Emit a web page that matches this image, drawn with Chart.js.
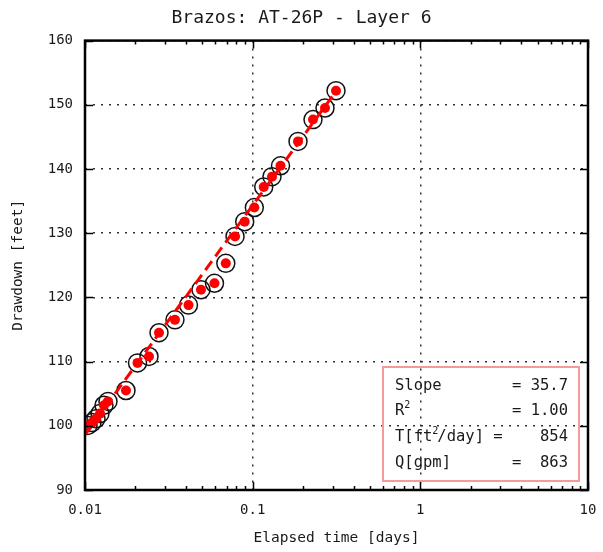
<!DOCTYPE html>
<html>
<head>
<meta charset="utf-8">
<script src="https://cdn.jsdelivr.net/npm/chart.js@4"></script>
<style>
  body { margin: 0; background: #fff; }
  #wrap { width: 603px; height: 552px; }
</style>
</head>
<body>
<div id="wrap"><canvas id="my-chart" width="603" height="552"></canvas></div>
<script>
// measured drawdown vs elapsed time
const timeDays = [0.01042, 0.01101, 0.01163, 0.01229, 0.01298, 0.01371, 0.01756, 0.02057,
    0.02408, 0.02763, 0.0344, 0.04143, 0.04918, 0.0592, 0.06915, 0.07848, 0.08965,
    0.1023, 0.1164, 0.1304, 0.1466, 0.1864, 0.229, 0.27, 0.3141];
const drawdownFeet = [100.05, 100.5, 101.1, 101.9, 103.2, 103.8, 105.5, 109.8,
    110.8, 114.5, 116.5, 118.8, 121.2, 122.2, 125.3, 129.5, 131.8,
    134.0, 137.2, 138.8, 140.5, 144.3, 147.7, 149.5, 152.2];

// straight-line fit (Cooper-Jacob)
const fitTime = [0.01, 0.3141];
const fitDrawdown = [98.6, 152.1];

const xTickValues = [0.01, 0.02, 0.03, 0.04, 0.05, 0.06, 0.07, 0.08, 0.09,
    0.1, 0.2, 0.3, 0.4, 0.5, 0.6, 0.7, 0.8, 0.9,
    1, 2, 3, 4, 5, 6, 7, 8, 9, 10];
const xTickLabels = ["0.01", "0.1", "1", "10"];

const statLabels = ["Slope", "R", "T[ft", "Q[gpm]"];
const statValues = ["= 35.7", "= 1.00", "854", "=  863"];

const mono = "'DejaVu Sans Mono', monospace";
const textColor = "#1a1a1a";

function isMajor(v) {
    const l = Math.log10(v);
    return Math.abs(l - Math.round(l)) < 1e-6;
}

const toPoints = (xs, ys) => xs.map((x, i) => ({ x: x, y: ys[i] }));

// frame, inward ticks and the stats box
const framePlugin = {
    id: "frame",
    afterDraw(chart) {
        const ctx = chart.ctx;
        const area = chart.chartArea;
        const xs = chart.scales.x;
        const ys = chart.scales.y;
        ctx.save();
        ctx.strokeStyle = "#000";
        ctx.lineWidth = 1.5;
        xs.ticks.forEach(t => {
            const px = Math.round(xs.getPixelForValue(t.value)) + 0.5;
            const len = isMajor(t.value) ? 8 : 4;
            ctx.beginPath();
            ctx.moveTo(px, area.bottom);
            ctx.lineTo(px, area.bottom - len);
            ctx.moveTo(px, area.top);
            ctx.lineTo(px, area.top + len);
            ctx.stroke();
        });
        ys.ticks.forEach(t => {
            const py = Math.round(ys.getPixelForValue(t.value)) + 0.5;
            ctx.beginPath();
            ctx.moveTo(area.left, py);
            ctx.lineTo(area.left + 8, py);
            ctx.moveTo(area.right, py);
            ctx.lineTo(area.right - 8, py);
            ctx.stroke();
        });
        ctx.lineWidth = 2.5;
        ctx.strokeRect(area.left, area.top, area.right - area.left, area.bottom - area.top);

        // stats box
        const bx = area.right - 205, by = area.bottom - 123, bw = 196, bh = 114;
        ctx.strokeStyle = "#f39a9a";
        ctx.lineWidth = 2;
        ctx.strokeRect(bx, by, bw, bh);

        const rows = [by + 19, by + 44, by + 70, by + 96];
        const left = bx + 12, right = bx + 185;
        const big = "15.5px " + mono, small = "10px " + mono;
        ctx.fillStyle = textColor;
        ctx.textBaseline = "middle";
        ctx.font = big;
        rows.forEach((ry, i) => {
            ctx.textAlign = "left";
            let lx = left;
            ctx.fillText(statLabels[i], lx, ry);
            lx += ctx.measureText(statLabels[i]).width;
            if (i === 1 || i === 2) {
                ctx.font = small;
                ctx.fillText("2", lx, ry - 6);
                lx += ctx.measureText("2").width - 1;
                ctx.font = big;
            }
            if (i === 2) {
                ctx.fillText("/day] =", lx, ry);
            }
            ctx.textAlign = "right";
            ctx.fillText(statValues[i], right, ry);
        });
        ctx.restore();
    }
};

const ctx = document.getElementById("my-chart").getContext("2d");

const myChart = new Chart(ctx, {
    type: "scatter",
    data: {
        datasets: [
            {
                label: "rings",
                data: toPoints(timeDays, drawdownFeet),
                pointRadius: 9,
                pointBackgroundColor: "rgba(0,0,0,0)",
                pointBorderColor: "#111",
                pointBorderWidth: 1.5,
                order: 3
            },
            {
                label: "fit",
                data: toPoints(fitTime, fitDrawdown),
                showLine: true,
                pointRadius: 0,
                borderColor: "#ff0000",
                borderWidth: 3,
                borderDash: [11, 6],
                fill: false,
                order: 2
            },
            {
                label: "drawdown",
                data: toPoints(timeDays, drawdownFeet),
                pointRadius: 5,
                pointBackgroundColor: "#ff0000",
                pointBorderWidth: 0,
                order: 1
            }
        ]
    },
    options: {
        responsive: false,
        animation: false,
        events: [],
        layout: { padding: { left: 0, right: 0, top: 0, bottom: 0 } },
        plugins: {
            legend: { display: false },
            tooltip: { enabled: false },
            title: {
                display: true,
                text: "Brazos: AT-26P - Layer 6",
                color: textColor,
                font: { family: mono, size: 18, weight: "normal" },
                padding: { top: 8, bottom: 11 }
            }
        },
        scales: {
            x: {
                type: "logarithmic",
                min: 0.01,
                max: 10,
                afterBuildTicks: scale => {
                    scale.ticks = xTickValues.map(v => ({ value: v }));
                },
                afterFit: scale => {
                    scale.height = 62;
                    scale.paddingLeft = 0;
                    scale.paddingRight = 15;
                },
                ticks: {
                    autoSkip: false,
                    maxRotation: 0,
                    padding: 12,
                    color: textColor,
                    font: { family: mono, size: 14 },
                    callback: v => {
                        const s = String(v);
                        return xTickLabels.includes(s) ? s : "";
                    }
                },
                grid: {
                    drawTicks: false,
                    color: c => (c.tick && isMajor(c.tick.value)) ? "#333" : "rgba(0,0,0,0)",
                    lineWidth: 1.5,
                    borderDash: [2, 6]
                },
                border: { display: false, dash: [2, 6] },
                title: {
                    display: true,
                    text: "Elapsed time [days]",
                    color: textColor,
                    font: { family: mono, size: 14.5 },
                    padding: { top: 0, bottom: 5 }
                }
            },
            y: {
                min: 90,
                max: 160,
                afterFit: scale => { scale.width = 85; },
                ticks: {
                    stepSize: 10,
                    padding: 12,
                    color: textColor,
                    font: { family: mono, size: 14 }
                },
                grid: {
                    drawTicks: false,
                    color: "#333",
                    lineWidth: 1.5,
                    borderDash: [2, 6]
                },
                border: { display: false, dash: [2, 6] },
                title: {
                    display: true,
                    text: "Drawdown [feet]",
                    color: textColor,
                    font: { family: mono, size: 14.5 },
                    padding: { top: 10, bottom: 0 }
                }
            }
        }
    },
    plugins: [framePlugin]
});
</script>
</body>
</html>
